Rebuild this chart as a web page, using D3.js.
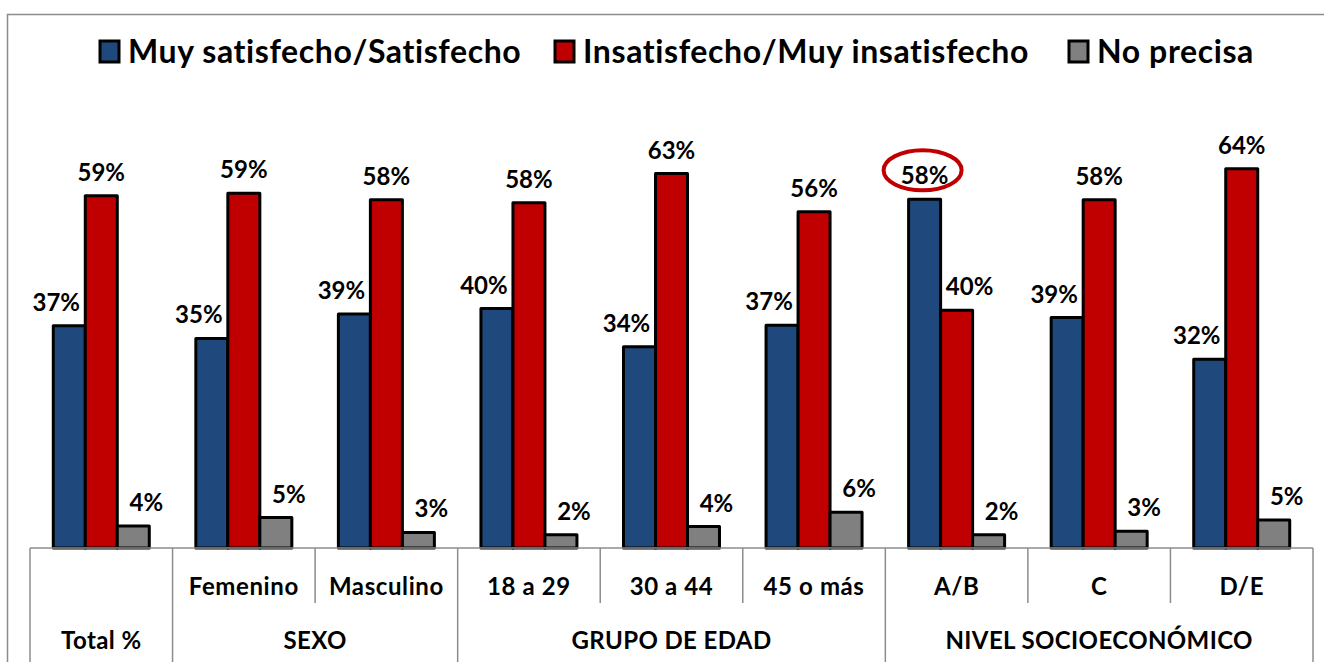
<!DOCTYPE html>
<html>
<head>
<meta charset="utf-8">
<script src="https://cdn.jsdelivr.net/npm/d3@7"></script>
<style>
  body { margin: 0; background: #fff; }
  svg text { font-family: Lato, "Open Sans", sans-serif; font-weight: bold; fill: #000; }
</style>
</head>
<body>
<svg class="chart"></svg>
<script>
const canvas = {width: 1324, height: 662};
const plot = {left: 30, right: 1313, base: 548};

// data
const categories = ["Total", "Femenino", "Masculino", "18 a 29", "30 a 44", "45 o más", "A/B", "C", "D/E"];
const catLabels = ["", "Femenino", "Masculino", "18 a 29", "30 a 44", "45 o más", "A/B", "C", "D/E"];
const groupNames = ["Total %", "SEXO", "GRUPO DE EDAD", "NIVEL SOCIOECONÓMICO"];
const groupSizes = [1, 2, 3, 3];
const seriesNames = ["Muy satisfecho/Satisfecho", "Insatisfecho/Muy insatisfecho", "No precisa"];
const satisfecho = [37.2, 35.1, 39.2, 40.1, 33.7, 37.3, 58.4, 38.6, 31.6];
const insatisfecho = [59.0, 59.4, 58.3, 57.8, 62.7, 56.3, 39.8, 58.3, 63.5];
const noPrecisa = [3.7, 5.1, 2.6, 2.2, 3.6, 6.0, 2.2, 2.8, 4.7];
const colors = ["#1F497D", "#C00000", "#808080"];
const highlighted = {category: "A/B", series: 0};

const seriesValues = [satisfecho, insatisfecho, noPrecisa];

const svg = d3.select(".chart")
    .attr("width", canvas.width)
    .attr("height", canvas.height);

// outer frame
svg.append("rect")
    .attr("x", 7.5).attr("y", 14.5)
    .attr("width", 1340).attr("height", 700)
    .attr("fill", "none")
    .attr("stroke", "#8c8c8c")
    .attr("stroke-width", 1.5);

const x0 = d3.scaleBand().domain(categories).range([plot.left, plot.right]);
const x1 = d3.scaleBand().domain(d3.range(3)).range([0, 96]);
const y = d3.scaleLinear().domain([0, 70]).range([plot.base, plot.base - 418]);

const rows = categories.map(function (c, i) {
    return seriesValues.map(function (s, j) { return {cat: c, i: i, s: j, v: s[i]}; });
});

const barOffset = (x0.bandwidth() - 96) / 2;

const groups = svg.selectAll(".cat")
    .data(rows)
    .enter().append("g")
    .attr("class", "cat")
    .attr("transform", function (d, i) { return "translate(" + (x0(categories[i]) + barOffset) + ",0)"; });

groups.selectAll("rect")
    .data(function (d) { return d; })
    .enter().append("rect")
    .attr("x", function (d) { return x1(d.s); })
    .attr("y", function (d) { return y(d.v); })
    .attr("width", x1.bandwidth())
    .attr("height", function (d) { return plot.base - y(d.v); })
    .attr("fill", function (d) { return colors[d.s]; })
    .attr("stroke", "#000")
    .attr("stroke-width", 3)
    .attr("stroke-linejoin", "round");

// labels: tallest in group centred, the others pushed away from it
groups.selectAll("text")
    .data(function (d) {
        const maxS = d3.maxIndex(d, function (e) { return e.v; });
        return d.map(function (e) { return Object.assign({maxS: maxS}, e); });
    })
    .enter().append("text")
    .attr("x", function (d) {
        let dx = 0;
        if (d.s < d.maxS) dx = -13;
        if (d.s > d.maxS) dx = 13;
        return x1(d.s) + x1.bandwidth() / 2 + dx;
    })
    .attr("y", function (d) { return y(d.v) - 15; })
    .attr("text-anchor", "middle")
    .style("font-size", "24px")
    .text(function (d) { return Math.round(d.v) + "%"; });

// highlight ellipse
const hx = x0(highlighted.category) + barOffset + x1(highlighted.series) + x1.bandwidth() / 2;
const hv = seriesValues[highlighted.series][categories.indexOf(highlighted.category)];
svg.append("ellipse")
    .attr("cx", hx - 2)
    .attr("cy", y(hv) - 29)
    .attr("rx", 39)
    .attr("ry", 20)
    .attr("fill", "none")
    .attr("stroke", "#C00000")
    .attr("stroke-width", 4);

// category axis
const xAxis = d3.axisBottom(x0).tickSize(0).tickFormat(function (d, i) { return catLabels[i]; });
const axisG = svg.append("g")
    .attr("transform", "translate(0," + plot.base + ")")
    .call(xAxis);
axisG.select(".domain").remove();
axisG.selectAll("text")
    .attr("y", 47)
    .attr("dy", 0)
    .style("font-size", "24px")
    .style("letter-spacing", "0.6px")
    .style("font-family", "Lato, sans-serif");

svg.append("line")
    .attr("x1", plot.left).attr("x2", plot.right)
    .attr("y1", plot.base).attr("y2", plot.base)
    .attr("stroke", "#8c8c8c").attr("stroke-width", 1.5);

// separators
const groupStarts = d3.cumsum([0].concat(groupSizes)).slice(0, -1);
const isGroupEdge = function (i) { return groupStarts.indexOf(i) >= 0 || i === categories.length; };
const edges = d3.range(categories.length + 1);
svg.selectAll(".sep")
    .data(edges)
    .enter().append("line")
    .attr("class", "sep")
    .attr("x1", function (i) { return plot.left + i * x0.step(); })
    .attr("x2", function (i) { return plot.left + i * x0.step(); })
    .attr("y1", plot.base)
    .attr("y2", function (i) { return isGroupEdge(i) ? 662 : 603; })
    .attr("stroke", "#8c8c8c").attr("stroke-width", 1.5);

// group labels
svg.selectAll(".grp")
    .data(groupNames)
    .enter().append("text")
    .attr("class", "grp")
    .attr("x", function (d, i) {
        const a = plot.left + groupStarts[i] * x0.step();
        return a + groupSizes[i] * x0.step() / 2;
    })
    .attr("y", 649)
    .attr("text-anchor", "middle")
    .style("font-size", "24px")
    .style("letter-spacing", "0.4px")
    .text(function (d) { return d; });

// legend
const legendX = [100, 555, 1069];
const legend = svg.selectAll(".leg")
    .data(seriesNames)
    .enter().append("g")
    .attr("class", "leg")
    .attr("transform", function (d, i) { return "translate(" + legendX[i] + ",41)"; });
legend.append("rect")
    .attr("width", 19).attr("height", 21)
    .attr("fill", function (d, i) { return colors[i]; })
    .attr("stroke", "#000").attr("stroke-width", 3);
legend.append("text")
    .attr("x", 28)
    .attr("y", 22)
    .style("font-size", "32px")
    .style("letter-spacing", "0.6px")
    .text(function (d) { return d; });
</script>
</body>
</html>
